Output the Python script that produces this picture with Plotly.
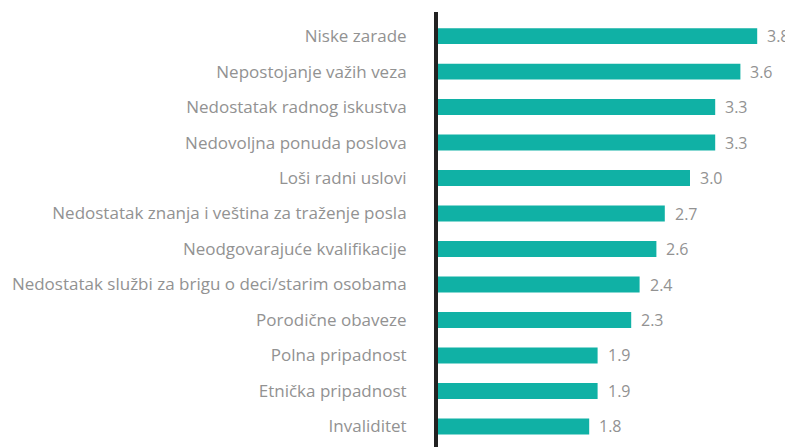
import plotly.graph_objects as go

categories = [
    "Niske zarade",
    "Nepostojanje važih veza",
    "Nedostatak radnog iskustva",
    "Nedovoljna ponuda poslova",
    "Loši radni uslovi",
    "Nedostatak znanja i veština za traženje posla",
    "Neodgovarajuće kvalifikacije",
    "Nedostatak službi za brigu o deci/starim osobama",
    "Porodične obaveze",
    "Polna pripadnost",
    "Etnička pripadnost",
    "Invaliditet",
]
values = [3.8, 3.6, 3.3, 3.3, 3.0, 2.7, 2.6, 2.4, 2.3, 1.9, 1.9, 1.8]

BAR = "#10b1a5"
TXT = "#929292"
FONT = "Open Sans, Noto Sans, sans-serif"

fig = go.Figure(
    go.Bar(
        x=values,
        y=categories,
        orientation="h",
        marker=dict(color=BAR, line=dict(width=0)),
        hoverinfo="skip",
    )
)

for c, v in zip(categories, values):
    fig.add_annotation(
        x=v, y=c, text=f"{v:.1f}", showarrow=False,
        xanchor="left", yanchor="middle", xshift=8,
        font=dict(family=FONT, size=16, color=TXT),
    )

# page body has an 8px margin; figure is sized/offset to compensate
fig.update_layout(
    width=785, height=439,
    margin=dict(l=430, r=19, t=4, b=0),
    paper_bgcolor="white", plot_bgcolor="white",
    bargap=0.55,
    showlegend=False,
    xaxis=dict(range=[0, 4], visible=False, fixedrange=True),
    yaxis=dict(
        categoryorder="array", categoryarray=categories,
        range=[11.58, -0.68],
        showline=True, linecolor="#222222", linewidth=4,
        showgrid=False, zeroline=False,
        ticks="", ticklabelstandoff=24,
        tickfont=dict(family=FONT, size=17, color=TXT),
    ),
)

fig.write_html("out.html")
